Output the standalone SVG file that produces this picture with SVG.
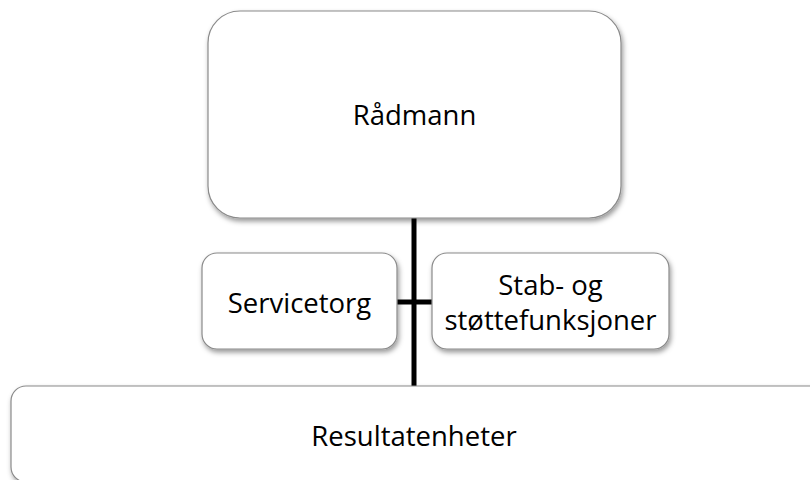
<svg xmlns="http://www.w3.org/2000/svg" width="810" height="480" viewBox="0 0 810 480">
  <defs>
    <filter id="shadow" x="-10%" y="-10%" width="120%" height="130%">
      <feDropShadow dx="1.5" dy="3" stdDeviation="2.5" flood-color="#000" flood-opacity="0.4"/>
    </filter>
  </defs>
  <style>
    .box { fill: #ffffff; stroke: #8a8a8a; stroke-width: 1.2; filter: url(#shadow); }
    .label { font-family: "Open Sans", "Liberation Sans", sans-serif; font-size: 27.5px; fill: #000; text-anchor: middle; }
    .link { stroke: #000; stroke-width: 5; fill: none; }
  </style>
  <rect width="810" height="480" fill="#ffffff"/>

  <!-- connectors -->
  <g id="connectors">
    <line class="link" x1="414" y1="216" x2="414" y2="387"/>
    <line class="link" x1="396" y1="302" x2="433" y2="302"/>
  </g>

  <g id="radmann">
    <rect class="box" x="208" y="11" width="413" height="207" rx="32" ry="32"/>
    <text class="label" x="414.5" y="125">Rådmann</text>
  </g>

  <g id="servicetorg">
    <rect class="box" x="202" y="253" width="195" height="96" rx="15" ry="15"/>
    <text class="label" x="299.5" y="313">Servicetorg</text>
  </g>

  <g id="stab">
    <rect class="box" x="432" y="253" width="237" height="96" rx="15" ry="15"/>
    <text class="label" x="550.5" y="295">Stab- og</text>
    <text class="label" x="550.5" y="330">støttefunksjoner</text>
  </g>

  <g id="resultatenheter">
    <rect class="box" x="11" y="386" width="820" height="96" rx="15" ry="15"/>
    <text class="label" x="414" y="446">Resultatenheter</text>
  </g>
</svg>
